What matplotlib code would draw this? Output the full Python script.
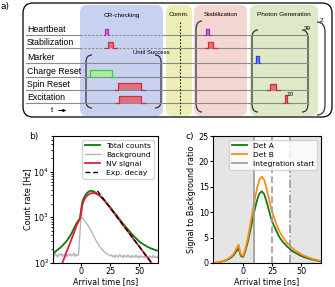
import matplotlib.pyplot as plt
import numpy as np
from matplotlib.patches import FancyBboxPatch, PathPatch, Polygon
from matplotlib.path import Path

# ---- panel b data: count rate vs arrival time ----
t_b = [-24, -22, -20, -18, -16, -14, -12, -10, -8, -6, -4, -2, -1, 0, 1, 2,
       4, 6, 8, 10, 12, 14, 16, 18, 20, 22, 24, 26, 28, 30, 32, 34, 36, 38,
       40, 42, 44, 46, 48, 50, 52, 54, 56, 58, 60, 62, 64, 66]
total_counts = [158, 178, 195, 214, 240, 270, 310, 370, 450, 570, 730, 870, 950, 1400, 2100, 2500,
                3150, 3550, 3800, 3760, 3550, 3240, 2950, 2630,
                2340, 2040, 1780, 1550, 1320, 1150, 980, 850, 725, 630,
                550, 480, 417, 372, 331, 295, 270, 251, 234, 219,
                209, 200, 190, 186]
nv_signal = [30, 42, 58, 78, 100, 135, 185, 250, 340, 460, 640, 820, 900, 1150, 1800, 2200,
             2750, 3100, 3330, 3400, 3350, 3200, 3000, 2700,
             2370, 2000, 1734, 1480, 1270, 1086, 928, 794, 679, 580,
             497, 425, 363, 311, 266, 228, 195, 166, 142, 122,
             104, 89, 76, 65]
t_bg = np.arange(-24, 67, 1)
background = [152, 141, 160, 147, 135, 158, 149, 162, 139, 151, 145, 166, 137,
              154, 148, 159, 142, 150, 163, 140, 155, 146, 158,
              420, 1010, 990, 930, 860, 790, 720, 665, 600, 545, 485, 435, 385,
              345, 305, 278, 250, 232, 212, 199, 186, 176, 168, 160, 156, 150,
              143, 151, 138, 146, 133, 149, 141, 136, 152, 139, 145, 131, 147,
              140, 135, 150, 137, 143, 129, 146, 138, 133, 148, 136, 141, 128,
              144, 135, 139, 130, 146, 134, 140, 127, 143, 136, 131, 145, 133,
              138, 129, 141]
t_fit = [14, 20, 30, 40, 50, 60, 64]
exp_decay = [3790, 2370, 1086, 497, 228, 104, 76]

# ---- panel c data: signal to background ratio ----
t_c = np.arange(-26, 67, 2)
det_a = [0.0, 0.05, 0.1, 0.2, 0.3, 0.45, 0.6, 0.85, 1.15, 1.6, 2.3, 2.9, 1.4,
         1.2, 2.5, 4.2, 6.3, 8.5, 10.6, 12.4, 13.7, 14.1, 13.6,
         12.2, 10.5, 8.8, 7.6, 6.6, 5.6, 4.8, 4.2, 3.7, 3.2,
         2.8, 2.4, 2.1, 1.9, 1.6, 1.4, 1.2, 1.05, 0.9, 0.75,
         0.65, 0.55, 0.45, 0.35]
det_b = [0.0, 0.06, 0.12, 0.22, 0.35, 0.5, 0.7, 1.0, 1.35, 1.9, 2.8, 3.6, 1.7,
         1.4, 2.9, 4.9, 7.4, 10.0, 12.6, 14.8, 16.4, 17.0, 16.4,
         14.8, 12.8, 10.8, 9.3, 8.0, 6.8, 5.9, 5.2, 4.5, 3.9,
         3.4, 3.0, 2.6, 2.3, 2.0, 1.7, 1.5, 1.3, 1.1, 0.95,
         0.8, 0.68, 0.56, 0.45]
integration_start = 9
window_mid = 25
window_end = 40

# ---- panel a: pulse sequence schematic (pixel-like coords) ----
channels = ['Heartbeat', 'Stabilization', 'Marker', 'Charge Reset', 'Spin Reset', 'Excitation']
chan_y = [35, 48, 63, 77, 90, 103]
sections = ['CR-checking', 'Comm.', 'Stabilization', 'Photon Generation']
sec_x = [(80, 163), (166, 192), (194, 247), (250, 318)]
sec_col = ['#c9d1f1', '#eceeb6', '#f4d6d3', '#dde9c7']
# (channel index, start, end, height, edge colour, fill colour)
pulses = [(0, 105, 107.5, 6, '#b02cc0', '#c86ad4'),
          (1, 108, 113, 6, '#e02838', '#e8707a'),
          (3, 90, 112, 7, '#3ccc3c', '#a6f0a0'),
          (4, 118, 141, 7, '#d42a3c', '#e07080'),
          (5, 119, 141, 7, '#d42a3c', '#e07080'),
          (0, 206, 208.5, 6, '#b02cc0', '#c86ad4'),
          (1, 208, 213, 6, '#e02838', '#e8707a'),
          (2, 256, 258.5, 7, '#2a3ce0', '#7080f0'),
          (4, 270, 276, 6, '#d42a3c', '#e07080'),
          (5, 284.5, 286.5, 8, '#d42a3c', '#e07080')]

fig = plt.figure(figsize=(3.35, 2.87), dpi=100)
ax = fig.add_axes([0, 0, 1, 1])
ax.set_xlim(0, 335)
ax.set_ylim(287, 0)
ax.axis('off')

ax.add_patch(FancyBboxPatch((23, 3), 309, 114, boxstyle='round,pad=0,rounding_size=10',
                            fc='white', ec='black', lw=0.9))
for (x0, x1), c, name in zip(sec_x, sec_col, sections):
    ax.add_patch(FancyBboxPatch((x0, 5), x1 - x0, 111, boxstyle='round,pad=0,rounding_size=7',
                                fc=c, ec='none'))
    ax.text((x0 + x1) / 2, 15, name, ha='center', va='center', fontsize=4.6,
            family='Liberation Sans')

for i, (name, y) in enumerate(zip(channels, chan_y)):
    if i < 2:
        ax.plot([26, 80], [y, y], color='#8a8a8a', lw=0.8)
        ax.plot([80, 163], [y, y], color='#8a8a8a', lw=0.8, ls=(0, (2, 1.5)))
        ax.plot([163, 308], [y, y], color='#8a8a8a', lw=0.8)
    else:
        ax.plot([26, 308], [y, y], color='#8a8a8a', lw=0.8)
    ax.text(27, y - 0.8, name, ha='left', va='bottom', fontsize=6.3, family='Liberation Sans')

for ci, x0, x1, h, ec, fc in pulses:
    y = chan_y[ci]
    pad = 3.5 if x1 - x0 > 4 else 1.2
    ax.add_patch(Polygon([(x0, y), (x0, y - h), (x1, y - h), (x1, y)], closed=True,
                         fc=fc, ec='none'))
    ax.plot([x0 - pad, x0, x0, x1, x1, x1 + pad], [y, y, y - h, y - h, y, y], color=ec, lw=0.9)


def bracket(x, y0, y1, w, r):
    # w > 0 opens to the right "(" , w < 0 opens to the left ")"
    verts = [(x + w, y0), (x, y0), (x, y0 + r), (x, y1 - r), (x, y1), (x + w, y1)]
    codes = [Path.MOVETO, Path.CURVE3, Path.CURVE3, Path.LINETO, Path.CURVE3, Path.CURVE3]
    ax.add_patch(PathPatch(Path(verts, codes), fc='none', ec='#333333', lw=0.9))


bracket(86, 55, 108, 6, 7)
bracket(161, 55, 108, -6, 7)
bracket(196, 21, 112, 6, 9)
bracket(252, 30, 112, 6, 8)
bracket(308, 30, 112, -6, 8)
bracket(325, 22, 115, -8, 10)
ax.text(151, 52.5, 'Until Success', ha='center', va='center', fontsize=4.3, family='Liberation Sans')
ax.text(307, 28, '39', ha='center', va='center', fontsize=4.6, family='Liberation Sans')
ax.text(321, 21, '2', ha='center', va='center', fontsize=4.6, family='Liberation Sans')
ax.text(290, 95, '10', ha='center', va='center', fontsize=4.6, family='Liberation Sans')
ax.plot([180, 180], [22, 114], color='#222222', lw=0.8, ls=(0, (1.5, 1.5)))
ax.text(52, 110.5, 't', ha='center', va='center', fontsize=5.5, family='Liberation Sans')
ax.annotate('', xy=(69, 110.5), xytext=(56, 110.5),
            arrowprops=dict(arrowstyle='-|>', lw=0.7, color='black', mutation_scale=4))

ax.text(5, 7, 'a)', ha='center', va='center', fontsize=6.5)
ax.text(34, 137, 'b)', ha='center', va='center', fontsize=6.5)
ax.text(190, 137, 'c)', ha='center', va='center', fontsize=6.5)

fs = 5.8

# ---- panel b ----
axb = fig.add_axes([53 / 335, 24 / 287, 105 / 335, 127 / 287])
axb.plot(t_b, total_counts, color='#0b7a0b', lw=1.3, label='Total counts')
axb.plot(t_bg, background, color='#b4b4b4', lw=1.0, label='Background')
axb.plot(t_b, nv_signal, color='#e8193c', lw=1.3, label='NV signal')
axb.plot(t_fit, exp_decay, color='black', lw=1.0, ls=(0, (3.5, 2)), label='Exp. decay')
axb.set_yscale('log')
axb.set_ylim(100, 6e4)
axb.set_xlim(-24, 66)
axb.set_xticks([0, 25, 50])
axb.set_xlabel('Arrival time [ns]', fontsize=fs, labelpad=0.5)
axb.set_ylabel('Count rate [Hz]', fontsize=fs, labelpad=0.5)
axb.tick_params(labelsize=fs, length=2, pad=1)
axb.tick_params(which='minor', length=1.2)
axb.legend(loc='upper right', fontsize=5.4, handlelength=2, borderpad=0.4,
           labelspacing=0.35, handletextpad=0.8, frameon=True, fancybox=True)

# ---- panel c ----
axc = fig.add_axes([213 / 335, 24 / 287, 108 / 335, 127 / 287])
axc.axvspan(-26, integration_start, color='#e5e5e5', lw=0)
axc.axvspan(window_end, 67, color='#e5e5e5', lw=0)
axc.plot(t_c, det_a, color='#137a13', lw=1.3, label='Det A')
axc.plot(t_c, det_b, color='#ff8a1c', lw=1.3, label='Det B')
axc.axvline(integration_start, color='#9a9a9a', lw=1.2, label='Integration start')
axc.axvline(window_mid, color='#9a9a9a', lw=1.2, ls=(0, (4, 2)))
axc.axvline(window_end, color='#9a9a9a', lw=1.2, ls=(0, (5, 1.5, 1, 1.5)))
axc.set_xlim(-26, 67)
axc.set_ylim(0, 25)
axc.set_xticks([0, 25, 50])
axc.set_yticks([0, 5, 10, 15, 20, 25])
axc.set_xlabel('Arrival time [ns]', fontsize=fs, labelpad=0.5)
axc.set_ylabel('Signal to Background ratio', fontsize=fs, labelpad=1.5)
axc.tick_params(labelsize=fs, length=2, pad=1)
axc.legend(loc='upper right', fontsize=5.4, handlelength=2, borderpad=0.4,
           labelspacing=0.35, handletextpad=0.8, frameon=True, fancybox=True)

fig.savefig('out.png', dpi=100)
